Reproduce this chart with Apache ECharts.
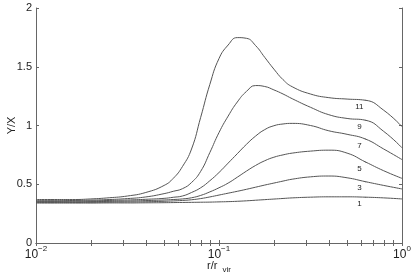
<!DOCTYPE html>
<html>
<head>
<meta charset="utf-8">
<script src="https://cdn.jsdelivr.net/npm/echarts@6/dist/echarts.min.js"></script>
<style>html,body{margin:0;padding:0;background:#fff;}#c{width:415px;height:277px;}</style>
</head>
<body>
<div id="c"></div>
<script>
var radii = [0.01, 0.01259, 0.01585, 0.01995, 0.02512, 0.03162, 0.03981, 0.05012, 0.05623, 0.0631, 0.07079, 0.07943, 0.08913, 0.1, 0.1122, 0.1259, 0.1413, 0.1585, 0.1778, 0.1995, 0.2239, 0.2512, 0.3162, 0.3981, 0.5012, 0.631, 0.7943, 1.0];
var curve1  = [0.340, 0.340, 0.340, 0.340, 0.341, 0.341, 0.342, 0.343, 0.344, 0.345, 0.346, 0.347, 0.348, 0.350, 0.352, 0.355, 0.359, 0.364, 0.369, 0.374, 0.379, 0.384, 0.390, 0.393, 0.393, 0.390, 0.384, 0.375];
var curve3  = [0.345, 0.345, 0.345, 0.346, 0.347, 0.349, 0.351, 0.355, 0.358, 0.362, 0.368, 0.378, 0.392, 0.408, 0.424, 0.440, 0.457, 0.475, 0.493, 0.510, 0.527, 0.543, 0.563, 0.570, 0.555, 0.522, 0.490, 0.460];
var curve5  = [0.350, 0.350, 0.350, 0.352, 0.354, 0.357, 0.361, 0.366, 0.370, 0.375, 0.385, 0.405, 0.435, 0.470, 0.510, 0.560, 0.612, 0.660, 0.700, 0.730, 0.750, 0.765, 0.782, 0.790, 0.765, 0.690, 0.615, 0.550];
var curve7  = [0.355, 0.355, 0.356, 0.358, 0.362, 0.366, 0.372, 0.380, 0.389, 0.400, 0.430, 0.470, 0.530, 0.600, 0.680, 0.760, 0.840, 0.910, 0.965, 0.998, 1.013, 1.018, 1.000, 0.955, 0.925, 0.885, 0.800, 0.710];
var curve9  = [0.360, 0.360, 0.362, 0.365, 0.370, 0.378, 0.392, 0.420, 0.440, 0.462, 0.515, 0.610, 0.770, 0.940, 1.080, 1.200, 1.290, 1.340, 1.332, 1.303, 1.268, 1.228, 1.155, 1.092, 1.060, 1.045, 0.950, 0.810];
var curve11 = [0.370, 0.370, 0.370, 0.375, 0.385, 0.400, 0.430, 0.490, 0.550, 0.650, 0.800, 1.070, 1.350, 1.570, 1.685, 1.748, 1.742, 1.680, 1.580, 1.480, 1.390, 1.330, 1.268, 1.237, 1.225, 1.215, 1.130, 0.990];
var curveNames = ['1', '3', '5', '7', '9', '11'];
var curves = [curve1, curve3, curve5, curve7, curve9, curve11];
var labelRadius = 0.631;
var xTickValues = [0.01,0.02,0.03,0.04,0.05,0.06,0.07,0.08,0.09,0.1,0.2,0.3,0.4,0.5,0.6,0.7,0.8,0.9,1];
var yTicks = [0, 0.5, 1, 1.5, 2];

var axisColor = '#666';
var lineColor = '#555';
var textColor = '#222';

function buildData(vals, name) {
  return radii.map(function (r, i) {
    var item = { value: [r, vals[i]] };
    if (r === labelRadius) {
      item.symbol = 'circle';
      item.symbolSize = 1;
      item.itemStyle = { color: lineColor };
      item.label = { show: true, formatter: name, position: 'bottom', distance: 2, offset: [-6, 0], fontSize: 8, color: textColor, fontFamily: 'Liberation Sans' };
    }
    return item;
  });
}

var series = curves.map(function (c, k) {
  return {
    type: 'line', name: curveNames[k], data: buildData(c, curveNames[k]),
    smooth: 0.5, showSymbol: true, symbol: 'none',
    lineStyle: { color: lineColor, width: 1 }, itemStyle: { color: lineColor },
    silent: true, animation: false
  };
});

function expFmt(v) {
  var e = Math.round(Math.log(v) / Math.LN10);
  return '{b|10}{e|' + (e < 0 ? '\u2212' + (-e) : e) + '}';
}

var chart = echarts.init(document.getElementById('c'), null, { renderer: 'canvas' });
chart.setOption({
  animation: false,
  backgroundColor: '#fff',
  textStyle: { fontFamily: 'Liberation Sans' },
  grid: { left: 36, right: 13, top: 8, bottom: 34, containLabel: false, outerBoundsMode: 'none' },
  xAxis: [{
    type: 'log', logBase: 10, min: 0.01, max: 1,
    axisLine: { show: true, lineStyle: { color: axisColor, width: 1 } },
    axisTick: { show: true, inside: true, length: 3, lineStyle: { color: axisColor }, customValues: xTickValues },
    minorTick: { show: false },
    splitLine: { show: false },
    axisLabel: {
      formatter: expFmt, margin: 2, color: textColor,
      rich: {
        b: { fontSize: 12, color: textColor, fontFamily: 'Liberation Sans', padding: [4, 0, 0, 0] },
        e: { fontSize: 8, color: textColor, fontFamily: 'Liberation Sans', verticalAlign: 'top' }
      }
    },
    name: '{a|r/r}{s|vir}', nameLocation: 'middle', nameGap: 15, nameMoveOverlap: false,
    nameTextStyle: {
      rich: {
        a: { fontSize: 11, color: textColor, fontFamily: 'Liberation Sans' },
        s: { fontSize: 8, color: textColor, fontFamily: 'Liberation Sans', padding: [8, 0, 0, 5] }
      }
    }
  }, {
    type: 'log', logBase: 10, min: 0.01, max: 1, position: 'top',
    axisLine: { show: true, lineStyle: { color: axisColor, width: 1 } },
    axisTick: { show: true, inside: true, length: 3, lineStyle: { color: axisColor }, customValues: xTickValues },
    axisLabel: { show: false }, splitLine: { show: false }
  }],
  yAxis: [{
    type: 'value', min: 0, max: 2, interval: 0.5,
    axisLine: { show: true, lineStyle: { color: axisColor, width: 1 } },
    axisTick: { show: true, inside: true, length: 3, lineStyle: { color: axisColor } },
    splitLine: { show: false },
    axisLabel: { color: textColor, fontSize: 11, margin: 4, fontFamily: 'Liberation Sans',
      formatter: function (v) { return String(v); } },
    name: 'Y/X', nameLocation: 'middle', nameGap: 19, nameRotate: 90, nameMoveOverlap: false,
    nameTextStyle: { color: textColor, fontSize: 11, fontFamily: 'Liberation Sans' }
  }, {
    type: 'value', min: 0, max: 2, interval: 0.5, position: 'right',
    axisLine: { show: true, lineStyle: { color: axisColor, width: 1 } },
    axisTick: { show: true, inside: true, length: 3, lineStyle: { color: axisColor } },
    splitLine: { show: false }, axisLabel: { show: false }
  }],
  series: series
});
</script>
</body>
</html>
